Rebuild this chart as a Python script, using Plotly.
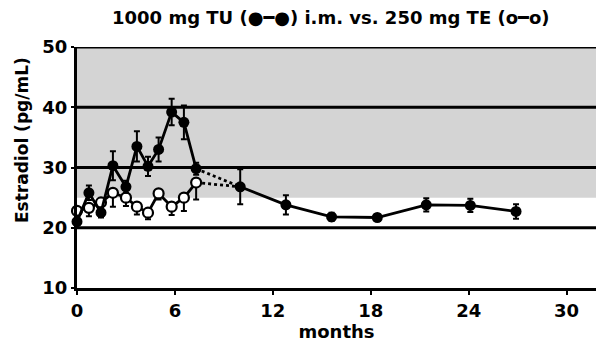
import plotly.graph_objects as go

# TU (1000 mg, i.m.) - filled circles
tu_x_early = [0, 0.73, 1.47, 2.2, 3.0, 3.67, 4.35, 5.0, 5.8, 6.55, 7.3]
tu_y_early = [21.0, 25.8, 22.5, 30.3, 26.8, 33.5, 30.2, 33.0, 39.2, 37.5, 29.8]
tu_e_early = [1.0, 1.2, 0.8, 2.4, 1.0, 2.5, 1.6, 2.0, 2.2, 2.8, 1.0]

tu_x_late = [10.0, 12.8, 15.6, 18.4, 21.4, 24.1, 26.9]
tu_y_late = [26.8, 23.8, 21.8, 21.7, 23.8, 23.7, 22.7]
tu_e_late = [2.9, 1.6, 0.7, 0.6, 1.1, 1.1, 1.2]

# TE (250 mg) - open circles
te_x = [0, 0.73, 1.47, 2.2, 3.0, 3.67, 4.35, 5.0, 5.8, 6.55, 7.3]
te_y = [22.8, 23.3, 24.2, 25.8, 25.0, 23.5, 22.5, 25.7, 23.5, 25.0, 27.5]
te_e = [1.0, 1.4, 1.0, 2.3, 1.4, 1.3, 1.1, 1.0, 1.4, 2.2, 2.8]

x_ticks = [0, 6, 12, 18, 24, 30]
y_ticks = [10, 20, 30, 40, 50]
grid_levels = [20, 30, 40, 50]

x_range = [0, 31.8]
y_range = [10, 50]

FONT = "DejaVu Sans"

fig = go.Figure()

# dotted connectors
fig.add_trace(go.Scatter(x=[tu_x_early[-1], tu_x_late[0]], y=[tu_y_early[-1], tu_y_late[0]],
                         mode="lines", line=dict(color="black", width=2.8, dash="dot"),
                         showlegend=False, hoverinfo="skip"))
fig.add_trace(go.Scatter(x=[te_x[-1], tu_x_late[0]], y=[te_y[-1], tu_y_late[0]],
                         mode="lines", line=dict(color="black", width=2.8, dash="dot"),
                         showlegend=False, hoverinfo="skip"))

fig.add_trace(go.Scatter(
    x=te_x, y=te_y, mode="lines+markers",
    line=dict(color="black", width=2.8),
    marker=dict(symbol="circle", size=10, color="white", line=dict(color="black", width=2.2)),
    error_y=dict(type="data", symmetric=False, array=[0]*len(te_e), arrayminus=te_e,
                 color="black", thickness=2, width=3),
    cliponaxis=False, showlegend=False))

fig.add_trace(go.Scatter(
    x=tu_x_early, y=tu_y_early, mode="lines+markers",
    line=dict(color="black", width=2.8),
    marker=dict(symbol="circle", size=11, color="black"),
    error_y=dict(type="data", array=tu_e_early, color="black", thickness=2, width=3),
    cliponaxis=False, showlegend=False))

fig.add_trace(go.Scatter(
    x=tu_x_late, y=tu_y_late, mode="lines+markers",
    line=dict(color="black", width=2.8),
    marker=dict(symbol="circle", size=11, color="black"),
    error_y=dict(type="data", array=tu_e_late, color="black", thickness=2, width=3),
    cliponaxis=False, showlegend=False))

shapes = [dict(type="rect", xref="x", yref="y", x0=x_range[0], x1=x_range[1], y0=25, y1=50,
               fillcolor="#d4d4d4", line=dict(width=0), layer="below")]
for lv in grid_levels:
    shapes.append(dict(type="line", xref="x", yref="y", x0=x_range[0], x1=x_range[1], y0=lv, y1=lv,
                       line=dict(color="black", width=3), layer="below"))

fig.update_layout(
    width=596, height=344,
    margin=dict(l=77, r=0, t=47, b=56),
    paper_bgcolor="white", plot_bgcolor="white",
    font=dict(family=FONT, color="black"),
    title=dict(text="<b>1000 mg TU (●━●) i.m. vs. 250 mg TE (o━o)</b>",
               x=0.555, xanchor="center", y=0.95, yanchor="middle",
               font=dict(size=18, color="black", family=FONT)),
    shapes=shapes,
    annotations=[dict(text="<b>Estradiol (pg/mL)</b>", textangle=-90, xref="paper", yref="paper",
                      x=-0.106, y=0.614, xanchor="center", yanchor="middle", showarrow=False,
                      font=dict(size=17, color="black", family=FONT))],
    xaxis=dict(range=x_range, tickvals=x_ticks, ticktext=[f"<b>{v}</b>" for v in x_ticks],
               showgrid=False, zeroline=False, showline=True, linecolor="black", linewidth=3,
               ticks="outside", ticklen=4, tickwidth=2, tickcolor="black",
               tickfont=dict(size=18), title=dict(text="<b>months</b>", font=dict(size=18), standoff=0)),
    yaxis=dict(range=y_range, tickvals=y_ticks, ticktext=[f"<b>{v}</b>" for v in y_ticks],
               showgrid=False, zeroline=False, showline=True, linecolor="black", linewidth=3,
               ticks="outside", ticklen=3, tickwidth=2, tickcolor="black", ticklabelstandoff=0,
               tickfont=dict(size=18)),
)

fig.write_html("out.html")
